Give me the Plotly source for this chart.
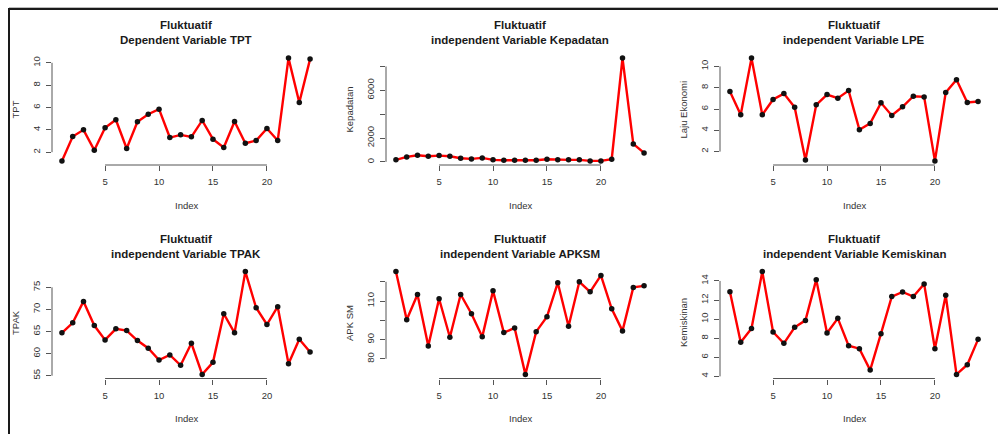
import plotly.graph_objects as go

W, H = 998, 434

index = list(range(1, 25))

tpt = [1.22, 3.40, 4.00, 2.18, 4.18, 4.90, 2.33, 4.72, 5.40, 5.85, 3.31, 3.55,
       3.37, 4.84, 3.16, 2.42, 4.75, 2.80, 3.04, 4.12, 3.04, 10.42, 6.45, 10.33]
kepadatan = [170, 420, 560, 475, 530, 475, 310, 250, 335, 170, 140, 140,
             140, 140, 225, 170, 170, 170, 85, 85, 225, 8700, 1510, 755]
lpe = [7.64, 5.46, 10.78, 5.46, 6.89, 7.45, 6.17, 1.22, 6.39, 7.36, 7.02, 7.73,
       4.06, 4.65, 6.58, 5.40, 6.21, 7.20, 7.14, 1.13, 7.55, 8.76, 6.61, 6.70]
tpak = [64.70, 66.97, 71.82, 66.36, 63.11, 65.61, 65.23, 62.95, 61.21, 58.56, 59.70, 57.35,
        62.35, 55.30, 58.03, 69.02, 64.70, 78.56, 70.38, 66.59, 70.61, 57.73, 63.26, 60.38]
apksm = [125.3, 100.3, 113.4, 86.6, 111.2, 91.2, 113.4, 103.4, 91.4, 115.3, 93.6, 96.0,
         71.9, 94.1, 101.9, 119.5, 96.9, 120.0, 114.8, 123.3, 106.0, 94.5, 117.1, 117.9]
kemiskinan = [12.88, 7.57, 9.03, 14.98, 8.65, 7.46, 9.14, 9.87, 14.14, 8.55, 10.08, 7.22,
              6.90, 4.66, 8.48, 12.36, 12.85, 12.36, 13.69, 6.90, 12.50, 4.21, 5.22, 7.88]

x_ticks = [5, 10, 15, 20]

panels = [
    dict(y=tpt, title2="Dependent Variable TPT", ylab="TPT",
         yticks=[2, 4, 6, 8, 10], ylabels=["2", "4", "6", "8", "10"]),
    dict(y=kepadatan, title2="independent Variable Kepadatan", ylab="Kepadatan",
         yticks=[0, 2000, 4000, 6000, 8000], ylabels=["0", "2000", "", "6000", ""]),
    dict(y=lpe, title2="independent Variable LPE", ylab="Laju Ekonomi",
         yticks=[2, 4, 6, 8, 10], ylabels=["2", "4", "6", "8", "10"]),
    dict(y=tpak, title2="independent Variable TPAK", ylab="TPAK",
         yticks=[55, 60, 65, 70, 75], ylabels=["55", "60", "65", "70", "75"]),
    dict(y=apksm, title2="independent Variable APKSM", ylab="APK SM",
         yticks=[80, 90, 100, 110, 120], ylabels=["80", "90", "", "110", ""]),
    dict(y=kemiskinan, title2="independent Variable Kemiskinan", ylab="Kemiskinan",
         yticks=[4, 6, 8, 10, 12, 14], ylabels=["4", "6", "8", "10", "12", "14"]),
]

# layout (pixels)
col_x0 = [52, 386, 720]
plot_w = 268
row_y0 = [54, 267.5]
plot_h = 111

FONT = "Liberation Sans, Arial, sans-serif"
AXCOL = "#555555"
TXT = "#333333"


def px(p):
    return p / W


def py(p):
    return 1 - p / H


def rrange(vals):
    lo, hi = min(vals), max(vals)
    e = (hi - lo) * 0.04
    return [lo - e, hi + e]


fig = go.Figure()
annotations = []
shapes = []

for i, p in enumerate(panels):
    r, c = divmod(i, 3)
    n = i + 1
    xa = "xaxis" if n == 1 else f"xaxis{n}"
    ya = "yaxis" if n == 1 else f"yaxis{n}"
    xr = "x" if n == 1 else f"x{n}"
    yr = "y" if n == 1 else f"y{n}"
    x0 = col_x0[c]
    x1 = x0 + plot_w
    ytop = row_y0[r]
    ybot = ytop + plot_h

    fig.add_trace(go.Scatter(
        x=index, y=p["y"], mode="lines+markers",
        line=dict(color="#ff0000", width=2.4),
        marker=dict(color="#111111", size=5.5),
        xaxis=xr, yaxis=yr, showlegend=False, hoverinfo="x+y"))

    fig.layout[xa] = dict(
        domain=[px(x0), px(x1)], range=rrange(index), anchor=yr,
        showgrid=False, zeroline=False, showline=False,
        tickmode="array", tickvals=x_ticks, ticktext=[str(t) for t in x_ticks],
        ticks="outside", ticklen=5, tickwidth=1, tickcolor=AXCOL,
        tickfont=dict(family=FONT, size=9.5, color=TXT), ticklabelstandoff=3,
        fixedrange=True)
    fig.layout[ya] = dict(
        domain=[py(ybot), py(ytop)], range=rrange(p["y"]), anchor=xr,
        showgrid=False, zeroline=False, showline=False,
        tickmode="array", tickvals=p["yticks"], ticktext=p["ylabels"],
        ticks="outside", ticklen=5, tickwidth=1, tickcolor=AXCOL, tickangle=-90,
        tickfont=dict(family=FONT, size=9.5, color=TXT), ticklabelstandoff=2,
        fixedrange=True)

    # R-style axis lines spanning only the tick range
    shapes.append(dict(type="line", xref=xr, yref=f"{yr} domain",
                       x0=x_ticks[0], x1=x_ticks[-1], y0=0, y1=0,
                       line=dict(color=AXCOL, width=1)))
    shapes.append(dict(type="line", xref=f"{xr} domain", yref=yr,
                       x0=0, x1=0, y0=p["yticks"][0], y1=p["yticks"][-1],
                       line=dict(color=AXCOL, width=1)))

    cx = px((x0 + x1) / 2)
    annotations.append(dict(text="<b>Fluktuatif</b>", x=cx, y=py(25 + r * 213.5),
                            xref="paper", yref="paper", showarrow=False,
                            xanchor="center", yanchor="middle",
                            font=dict(family=FONT, size=11.5, color="#1a1a1a")))
    annotations.append(dict(text=f"<b>{p['title2']}</b>", x=cx, y=py(40 + r * 213.5),
                            xref="paper", yref="paper", showarrow=False,
                            xanchor="center", yanchor="middle",
                            font=dict(family=FONT, size=11.5, color="#1a1a1a")))
    annotations.append(dict(text="Index", x=cx, y=py(ybot + 40),
                            xref="paper", yref="paper", showarrow=False,
                            xanchor="center", yanchor="middle",
                            font=dict(family=FONT, size=9.5, color=TXT)))
    annotations.append(dict(text=p["ylab"], x=px(x0 - 37), y=py((ytop + ybot) / 2),
                            xref="paper", yref="paper", showarrow=False, textangle=-90,
                            xanchor="center", yanchor="middle",
                            font=dict(family=FONT, size=9.5, color=TXT)))

# outer frame (top and left border)
shapes.append(dict(type="line", xref="paper", yref="paper",
                   x0=px(9), x1=1, y0=py(7.5), y1=py(7.5),
                   line=dict(color="#bbbbbb", width=1)))
shapes.append(dict(type="line", xref="paper", yref="paper",
                   x0=px(9), x1=px(9), y0=0, y1=py(9),
                   line=dict(color="#1a1a1a", width=2)))
shapes.append(dict(type="line", xref="paper", yref="paper",
                   x0=px(8), x1=1, y0=py(9), y1=py(9),
                   line=dict(color="#1a1a1a", width=2)))

fig.update_layout(
    width=W, height=H, margin=dict(l=0, r=0, t=0, b=0),
    paper_bgcolor="white", plot_bgcolor="white",
    annotations=annotations, shapes=shapes, showlegend=False)

fig.write_html("out.html", config={"displayModeBar": False})
